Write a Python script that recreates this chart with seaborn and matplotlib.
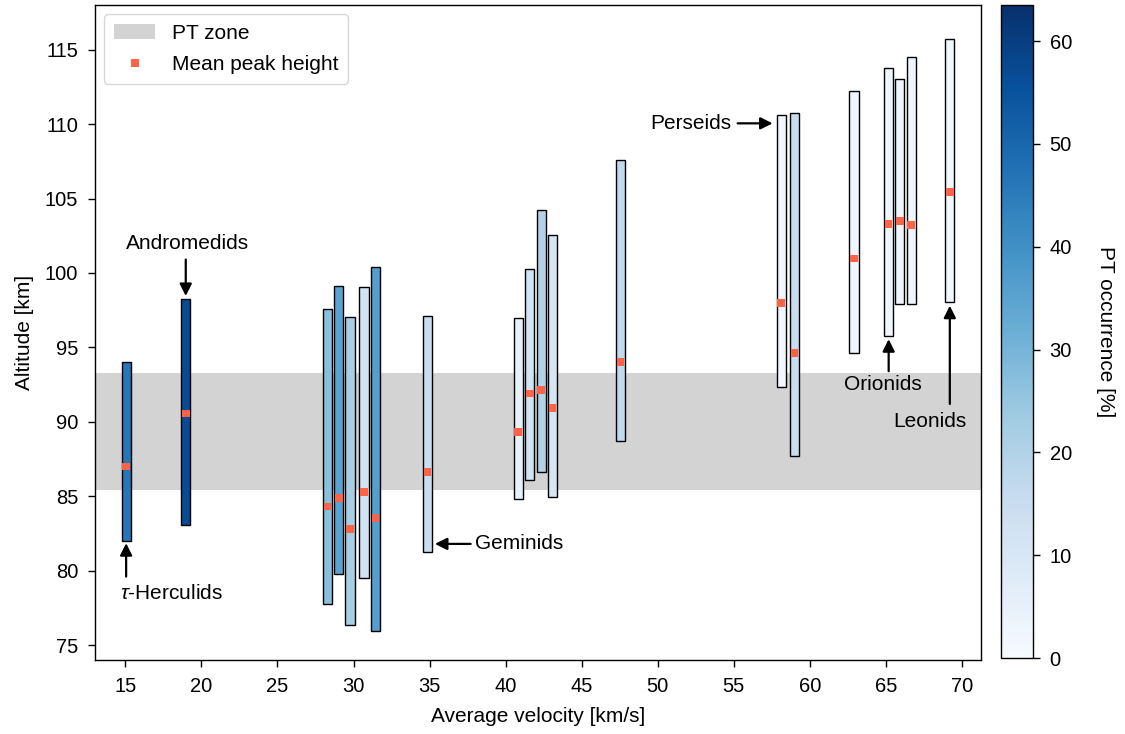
import numpy as np
import pandas as pd
import matplotlib
matplotlib.use("Agg")
import matplotlib.pyplot as plt
import seaborn as sns
from matplotlib.patches import Patch
from matplotlib.lines import Line2D

# ---- data ----
velocity = [15.05, 18.97, 28.28, 29.03, 29.77, 30.69, 31.44, 34.85, 40.83, 41.59,
            42.33, 43.08, 47.54, 58.11, 59.0, 62.9, 65.18, 65.92, 66.66, 69.2]
alt_bottom = [82.0, 83.1, 77.76, 79.77, 76.34, 79.53, 75.97, 81.25, 84.82, 86.09,
              86.61, 84.93, 88.71, 92.37, 87.71, 94.61, 95.77, 97.9, 97.9, 98.08]
alt_top = [94.05, 98.26, 97.57, 99.13, 97.03, 99.04, 100.41, 97.12, 96.96, 100.28,
           104.2, 102.52, 107.6, 110.63, 110.74, 112.2, 113.79, 113.0, 114.51, 115.69]
mean_peak = [87.0, 90.55, 84.32, 84.9, 82.82, 85.29, 83.54, 86.63, 89.3, 91.9,
             92.12, 90.91, 94.0, 97.97, 94.61, 100.97, 103.28, 103.5, 103.21, 105.43]
pt_occurrence = [46, 57, 27, 35, 22, 12, 36, 15, 5, 12, 20, 11, 17, 2, 15, 3, 3, 3, 3, 2]

pt_zone = [85.4, 93.3]
occ_max = 63.5
cbar_ticks = [0, 10, 20, 30, 40, 50, 60]
x_ticks = [15, 20, 25, 30, 35, 40, 45, 50, 55, 60, 65, 70]
y_ticks = [75, 80, 85, 90, 95, 100, 105, 110, 115]

labels = ["Andromedids", r"$\tau$-Herculids", "Geminids", "Perseids", "Orionids", "Leonids"]
text_pos = [(19.1, 101.95, "center"), (14.65, 78.5, "left"), (38.0, 81.8, "left"),
            (54.85, 110.05, "right"), (64.8, 92.5, "center"), (67.9, 90.05, "center")]
arrow_tail = [(18.97, 100.9), (15.05, 79.6), (37.7, 81.8), (55.25, 110.05), (65.18, 93.4), (69.2, 91.2)]
arrow_tip = [(18.97, 98.45), (15.05, 81.85), (35.35, 81.8), (57.55, 110.05), (65.18, 95.55), (69.2, 97.8)]

df = pd.DataFrame({"velocity": velocity, "bottom": alt_bottom, "top": alt_top,
                   "mean": mean_peak, "occ": pt_occurrence})

# ---- style ----
sns.set_theme(style="ticks")
plt.rcParams["font.family"] = ["Liberation Sans", "DejaVu Sans"]
plt.rcParams["mathtext.fontset"] = "custom"
plt.rcParams["mathtext.it"] = "Liberation Sans:italic"
plt.rcParams["mathtext.rm"] = "Liberation Sans"
plt.rcParams["text.color"] = "black"
plt.rcParams["axes.labelcolor"] = "black"
plt.rcParams["xtick.color"] = "black"
plt.rcParams["ytick.color"] = "black"
plt.rcParams["axes.edgecolor"] = "black"
plt.rcParams["axes.linewidth"] = 1.0
plt.rcParams["xtick.major.width"] = 1.0
plt.rcParams["ytick.major.width"] = 1.0

TICK_FS = 14.5
TXT_FS = 15

fig = plt.figure(figsize=(11.25, 7.34), dpi=100)
ax = fig.add_axes([0.0844, 0.1008, 0.7876, 0.8924])
cax = fig.add_axes([0.8898, 0.1035, 0.0284, 0.8896])

cmap = plt.get_cmap("Blues")
norm = matplotlib.colors.Normalize(vmin=0, vmax=occ_max)

# PT zone
ax.axhspan(pt_zone[0], pt_zone[1], color="#d3d3d3", lw=0, zorder=0)

# floating bars
ax.bar(df["velocity"], df["top"] - df["bottom"], bottom=df["bottom"], width=0.6,
       color=[cmap(norm(v)) for v in df["occ"]], edgecolor="black", linewidth=1.0, zorder=2)

# mean peak markers
sns.scatterplot(data=df, x="velocity", y="mean", ax=ax, marker="s", s=30,
                color="#ff6347", edgecolor="none", linewidth=0, zorder=3, legend=False)

# annotations
for lab, (tx, ty, ha), tail, tip in zip(labels, text_pos, arrow_tail, arrow_tip):
    ax.annotate("", xy=tip, xytext=tail,
                arrowprops=dict(arrowstyle="-|>,head_length=0.6,head_width=0.3",
                                color="black", lw=1.6, shrinkA=0, shrinkB=0))
    ax.text(tx, ty, lab, ha=ha, va="center", fontsize=TXT_FS, color="black")

ax.set_xlim(13.0, 71.25)
ax.set_ylim(74.0, 118.0)
ax.set_xticks(x_ticks)
ax.set_yticks(y_ticks)
ax.tick_params(direction="out", length=5, color="black", labelcolor="black",
               labelsize=TICK_FS, pad=7)
ax.set_xlabel("Average velocity [km/s]", fontsize=TXT_FS, labelpad=8)
ax.set_ylabel("Altitude [km]", fontsize=TXT_FS, labelpad=8)
for s in ax.spines.values():
    s.set_visible(True)
    s.set_color("black")

handles = [Patch(facecolor="#d3d3d3", edgecolor="none", label="PT zone"),
           Line2D([], [], marker="s", color="#ff6347", ls="none", markersize=5.5,
                  markeredgewidth=0, label="Mean peak height")]
leg = ax.legend(handles=handles, loc="upper left", fontsize=TXT_FS, frameon=True,
                fancybox=True, framealpha=0.8, edgecolor="#cccccc",
                borderaxespad=0.45, handlelength=2.0, borderpad=0.45,
                labelspacing=0.6)

sm = matplotlib.cm.ScalarMappable(norm=norm, cmap=cmap)
cb = fig.colorbar(sm, cax=cax, ticks=cbar_ticks)
cb.set_label("PT occurrence [%]", rotation=270, labelpad=31, fontsize=TXT_FS)
cb.outline.set_linewidth(1.0)
cb.outline.set_edgecolor("black")
cax.tick_params(labelsize=TICK_FS, length=5, color="black", pad=7)

fig.savefig("out.png", dpi=100)
